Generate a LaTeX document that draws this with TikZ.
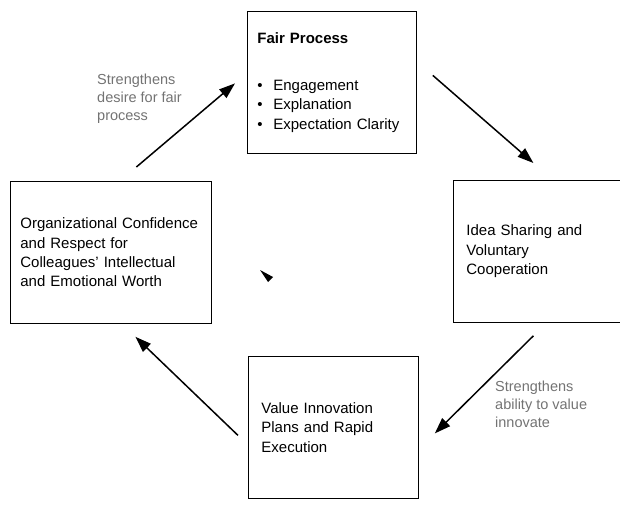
\documentclass[tikz,border=0pt]{standalone}
\usepackage{fontspec}
\setmainfont{Liberation Sans}
\usetikzlibrary{arrows.meta,positioning,calc}

\begin{document}
\begin{tikzpicture}[x=1pt,y=-1pt,>={Triangle[length=16pt,width=11pt]},
    box/.style={draw,line width=.8pt,anchor=north west,minimum height=142pt,inner xsep=10pt,
        align=left,font=\fontsize{15}{19.3}\selectfont},
    link/.style={->,line width=1.5pt},
    note/.style={anchor=north west,inner sep=0pt,align=left,text=black!55,
        font=\fontsize{14.5}{17.8}\selectfont}]
    \useasboundingbox (0,0) rectangle (620,510);

    % the four stages
    \node[box,minimum width=169pt,text width=149pt] (fair) at (247,11)
        {\textbf{Fair Process}\\[28pt]
         \makebox[16pt][l]{\textbullet}Engagement\\
         \makebox[16pt][l]{\textbullet}Explanation\\
         \makebox[16pt][l]{\textbullet}Expectation Clarity\\[6pt]};
    \node[box,minimum width=172pt,text width=146pt,inner xsep=13pt] (idea) at (453,180)
        {Idea Sharing and\\Voluntary\\Cooperation\\[-6pt]};
    \node[box,minimum width=170pt,text width=144pt,inner xsep=13pt] (value) at (248,356)
        {Value Innovation\\Plans and Rapid\\Execution};
    \node[box,minimum width=201pt,text width=181pt] (org) at (10,181)
        {Organizational Confidence\\and Respect for\\Colleagues' Intellectual\\and Emotional Worth};

    \node[note] (desire) at (97,74) {Strengthens\\desire for fair\\process};
    \node[note] (ability) at (495,381) {Strengthens\\ability to value\\innovate};

    % the cycle
    \draw[link] ($(org.north)+(25.5,-14)$) -- ($(fair.west)+(-12,1)$);
    \draw[link] ($(fair.east)+(16,-7)$) -- ($(idea.north)+(-6,-17)$);
    \draw[link] ($(idea.south)+(-6,13)$) -- ($(value.east)+(16,6)$);
    \draw[link] ($(value.west)+(-10,8)$) -- ($(org.south)+(24.5,13)$);

    \fill (260,270) -- (273,277) -- (268,282) -- cycle;
\end{tikzpicture}
\end{document}
